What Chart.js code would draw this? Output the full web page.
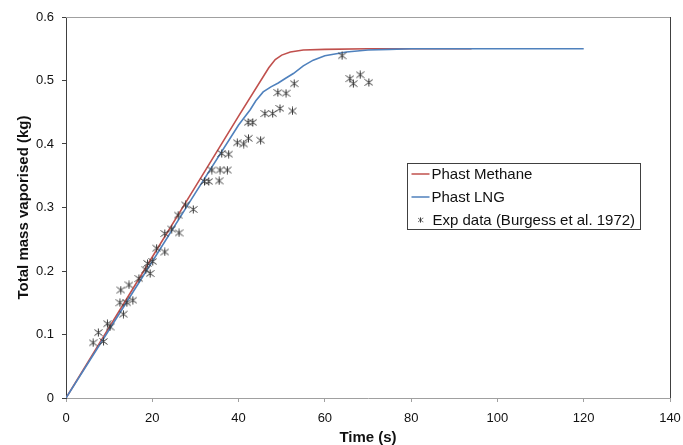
<!DOCTYPE html>
<html>
<head>
<meta charset="utf-8">
<script src="https://cdn.jsdelivr.net/npm/chart.js@4/dist/chart.umd.min.js"></script>
<style>
html,body{margin:0;padding:0;background:#fff;}
#wrap{width:683px;height:445px;position:relative;}
</style>
</head>
<body>
<div id="wrap"><canvas id="c" width="683" height="445"></canvas></div>
<script>
// ---- data ----
const methaneTime = [0, 10, 20, 30, 40, 47, 48.5, 50, 52, 55, 60, 70, 94];
const methaneMass = [0, 0.111, 0.222, 0.333, 0.444, 0.52, 0.533, 0.540, 0.545, 0.548, 0.549, 0.55, 0.55];

const lngTime = [0, 10, 20, 30, 40, 42.7, 44, 45.7, 47.5, 49.2, 51, 52.7, 55, 57.3, 60, 65, 70, 75, 80, 120];
const lngMass = [0, 0.1075, 0.215, 0.323, 0.43, 0.454, 0.468, 0.482, 0.490, 0.496, 0.504, 0.511, 0.523, 0.532, 0.539, 0.545, 0.548, 0.549, 0.55, 0.55];

const expTime = [6.3, 7.5, 8.7, 9.6, 10.2, 12.5, 12.7, 13.3, 14.1, 14.6, 15.5, 16.9, 18.5, 18.9, 19.5, 20.1, 21.0, 22.9, 22.9, 24.5,
                 26.2, 26.0, 27.7, 29.5, 32.1, 33.1, 35.5, 33.8, 35.7, 37.4, 36.1, 37.7, 39.7, 41.2, 42.3, 45.1, 42.2, 43.3, 46.1, 47.9,
                 49.6, 52.5, 49.1, 51.0, 52.9, 64.0, 65.8, 66.6, 68.2, 70.2];
const expMass = [0.087, 0.103, 0.089, 0.117, 0.112, 0.150, 0.170, 0.132, 0.150, 0.178, 0.154, 0.188, 0.202, 0.212, 0.196, 0.215, 0.236, 0.230, 0.259, 0.266,
                 0.260, 0.288, 0.304, 0.297, 0.341, 0.341, 0.342, 0.359, 0.359, 0.359, 0.385, 0.384, 0.402, 0.400, 0.409, 0.406, 0.434, 0.434, 0.448, 0.448,
                 0.456, 0.452, 0.481, 0.480, 0.495, 0.539, 0.503, 0.495, 0.509, 0.497];

const seriesLabels = ["Phast Methane", "Phast LNG", "Exp data (Burgess et al. 1972)"];
const xTicks = [0, 20, 40, 60, 80, 100, 120, 140];
const yTicks = ["0", "0.1", "0.2", "0.3", "0.4", "0.5", "0.6"];

// ---- styles ----
const RED = "#C0504D";
const BLUE = "#4F81BD";
const MARK = "#3a3a3a";
const FONT = "'Liberation Sans', Arial, sans-serif";

function makeStar(size) {
  const cv = document.createElement('canvas');
  cv.width = size; cv.height = size;
  const g = cv.getContext('2d');
  g.strokeStyle = MARK; g.lineWidth = 1;
  const m = size / 2, r = size / 2 - 0.5;
  g.beginPath();
  g.moveTo(m - r, m - r * 0.75); g.lineTo(m + r, m + r * 0.75);
  g.moveTo(m + r, m - r * 0.75); g.lineTo(m - r, m + r * 0.75);
  g.moveTo(m, m - r); g.lineTo(m, m + r);
  g.stroke();
  return cv;
}
const starImg = makeStar(9);

const toPts = (xs, ys) => xs.map((x, i) => ({x: x, y: ys[i]}));

const frame = {
  id: 'frame',
  afterDatasetsDraw(chart) {
    const {ctx, chartArea: a} = chart;
    ctx.save();
    ctx.lineWidth = 1;
    ctx.strokeStyle = "#a0a0a0";
    ctx.beginPath(); ctx.moveTo(a.left, a.top + 0.5); ctx.lineTo(a.right, a.top + 0.5); ctx.stroke();
    ctx.strokeStyle = "#404040";
    ctx.beginPath(); ctx.moveTo(a.right + 0.5, a.top); ctx.lineTo(a.right + 0.5, a.bottom); ctx.stroke();
    ctx.restore();
  }
};

const boxLegend = {
  id: 'boxLegend',
  afterDraw(chart) {
    const {ctx} = chart;
    const x0 = 407.5, y0 = 163.5, w = 233, h = 66;
    ctx.save();
    ctx.fillStyle = "#fff";
    ctx.fillRect(x0, y0, w, h);
    ctx.strokeStyle = "#404040"; ctx.lineWidth = 1;
    ctx.strokeRect(x0, y0, w, h);
    ctx.font = "15px " + FONT;
    ctx.textBaseline = "middle";
    const rows = [174, 197, 220];
    chart.data.datasets.forEach((ds, i) => {
      const y = rows[i];
      if (i < 2) {
        ctx.strokeStyle = ds.borderColor; ctx.lineWidth = 1.5;
        ctx.beginPath(); ctx.moveTo(x0 + 4, y); ctx.lineTo(x0 + 22, y); ctx.stroke();
      } else {
        ctx.drawImage(starImg, x0 + 10, y - 3, 6, 6);
      }
      ctx.fillStyle = "#111";
      ctx.fillText(ds.label, x0 + (i < 2 ? 24 : 25), y + 0.5);
    });
    ctx.restore();
  }
};

new Chart(document.getElementById('c'), {
  type: 'scatter',
  data: {
    datasets: [
      {label: seriesLabels[0], data: toPts(methaneTime, methaneMass), showLine: true, borderColor: RED, borderWidth: 1.6, pointRadius: 0, tension: 0, order: 2},
      {label: seriesLabels[1], data: toPts(lngTime, lngMass), showLine: true, borderColor: BLUE, borderWidth: 1.6, pointRadius: 0, tension: 0, order: 1},
      {label: seriesLabels[2], data: toPts(expTime, expMass), showLine: false, pointStyle: starImg, pointRadius: 4, borderColor: MARK, backgroundColor: MARK, order: 0}
    ]
  },
  options: {
    responsive: false,
    animation: false,
    layout: {padding: {left: 0, top: 17, right: 13, bottom: 0}},
    plugins: {legend: {display: false}, tooltip: {enabled: false}},
    scales: {
      x: {
        type: 'linear', min: 0, max: 140,
        afterBuildTicks(s) { s.ticks = xTicks.map(v => ({value: v})); },
        afterFit(s) { s.height = 47; s.paddingRight = 0; s.paddingLeft = 0; },
        ticks: {font: {family: FONT, size: 13}, color: "#111", padding: 9, maxRotation: 0},
        grid: {display: true, drawOnChartArea: false, drawTicks: true, tickLength: 4, color: "#a0a0a0"},
        border: {display: true, color: "#a0a0a0", width: 1},
        title: {display: true, text: "Time (s)", font: {family: FONT, size: 15, weight: 'bold'}, color: "#111", padding: {top: 0, bottom: -2}}
      },
      y: {
        type: 'linear', min: 0, max: 0.6,
        afterBuildTicks(s) { s.ticks = yTicks.map(v => ({value: parseFloat(v)})); },
        afterFit(s) { s.width = 66; },
        ticks: {font: {family: FONT, size: 13}, color: "#111", padding: 8,
                callback: (v) => yTicks.find(t => Math.abs(parseFloat(t) - v) < 1e-9) ?? ''},
        grid: {display: true, drawOnChartArea: false, drawTicks: true, tickLength: 4, color: "#404040"},
        border: {display: true, color: "#404040", width: 1},
        title: {display: true, text: "Total mass vaporised (kg)", font: {family: FONT, size: 15, weight: 'bold'}, color: "#111", padding: {top: 15, bottom: 0}}
      }
    }
  },
  plugins: [frame, boxLegend]
});
</script>
</body>
</html>
